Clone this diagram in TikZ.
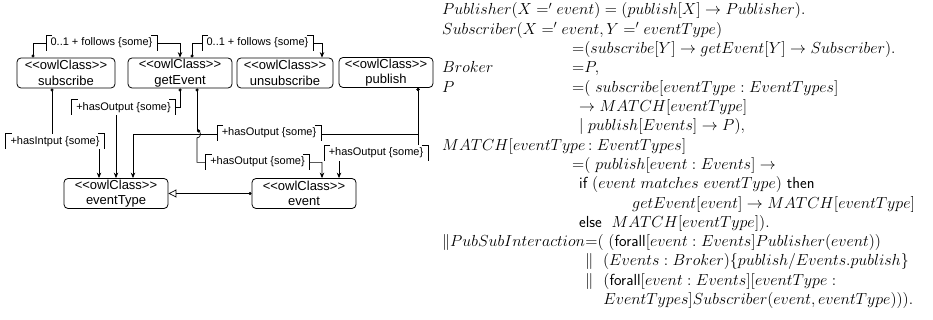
\RequirePackage{fix-cm}
\documentclass[tikz,border=0pt]{standalone}
\usepackage[no-math]{fontspec}
\newfontfamily\arialf{Liberation Sans}
\usetikzlibrary{arrows.meta}
\newcommand\owlc{\textless\kern0pt\textless owlClass\textgreater\kern0pt\textgreater}
\tikzset{
  owl/.style={draw, rounded corners=4pt, line width=0.8pt, align=center,
    font=\arialf\fontsize{13}{15.5}\selectfont, minimum height=30pt, inner sep=0pt},
  role/.style={fill=white, font=\arialf\fontsize{11}{13}\selectfont,
    inner xsep=4.5pt, inner ysep=2.5pt},
  assoc/.style={line width=0.7pt, {Circle[length=3.2pt]}-{Stealth[length=5.5pt,width=4.5pt]}},
  genz/.style={line width=0.7pt, {Circle[length=3.2pt]}-{Triangle[open,length=8pt,width=8pt]}},
  bracket/.style={line width=0.7pt},
  mline/.style={anchor=base west, inner sep=0pt, font=\fontsize{16}{19.3}\selectfont}
}
\begin{document}
\begin{tikzpicture}[x=1pt,y=-1pt]
\useasboundingbox (0,0) rectangle (933,320);
% classes
\node[owl, minimum width=98pt]  (subscribe)   at (66,73)  {\owlc\\subscribe};
\node[owl, minimum width=104pt] (getEvent)    at (180,73) {\owlc\\getEvent};
\node[owl, minimum width=96pt]  (unsubscribe) at (285,73) {\owlc\\unsubscribe};
\node[owl, minimum width=94pt]  (publish)     at (386,72.5) {\owlc\\publish};
\node[owl, minimum width=104pt] (eventType)   at (116,193.5) {\owlc\\eventType};
\node[owl, minimum width=104pt] (event)       at (304,193.5) {\owlc\\event};
% connectors
\draw[assoc] ([xshift=-33pt]subscribe.north) -- ++(0,-14) -| (getEvent.north);
\draw[assoc] ([xshift=12pt]getEvent.north) -- ++(0,-14) -| ([xshift=37pt]unsubscribe.north);
\draw[assoc] (getEvent.south) -- ++(0,19) -| (eventType.north);
\draw[assoc] ([xshift=-14pt]subscribe.south) -- ++(0,53) -| ([xshift=-17pt]eventType.north);
\draw[line width=0.7pt, {Circle[length=3.2pt]}-] ([xshift=17pt]getEvent.south) -- ++(0,42.5) coordinate (hop);
\draw[assoc] (hop) arc[start angle=90, end angle=-90, radius=3.5pt] -- ++(0,24.5) -| ([xshift=18pt]event.north);
\draw[assoc] ([xshift=32pt]publish.south) -- ++(0,46) -| ([xshift=17pt]eventType.north);
\draw[assoc] ([xshift=32pt]publish.south) -- ++(0,65) -| ([xshift=35pt]event.north);
\draw[genz] (event.west) -- (eventType.east);
% role labels
\node[role] (r1) at (101.5,43) {0..1 + follows \{some\}};
\node[role] (r2) at (257.5,43) {0..1 + follows \{some\}};
\node[role] (r3) at (123.5,107.5) {+hasOutput \{some\}};
\node[role] (r4) at (55,141.5) {+hasIntput \{some\}};
\node[role] (r5) at (257.5,162) {+hasOutput \{some\}};
\node[role] (r6) at (269,133) {+hasOutput \{some\}};
\node[role] (r7) at (376,153) {+hasOutput \{some\}};
\foreach \n in {r1,r2,r3,r4,r5,r6,r7}{
  \draw[bracket] ([xshift=6pt]\n.north west) -- (\n.north west) -- (\n.south west);
  \draw[bracket] ([xshift=-6pt]\n.north east) -- (\n.north east) -- (\n.south east);
}
% process algebra text
\node[mline] (m1)  at (442,15)    {$Publisher(X =' event) = (publish[X] \rightarrow Publisher).$};
\node[mline] (m2)  at (442,34.3)  {$Subscriber(X =' event,Y =' eventType)$};
\node[mline] (m3)  at (572,53.6)  {${=}(subscribe[Y] \rightarrow getEvent[Y] \rightarrow Subscriber).$};
\node[mline] (m4a) at (442,72.9)  {$Broker$};
\node[mline] (m4)  at (572,72.9)  {${=}P,$};
\node[mline] (m5a) at (442,92.2)  {$P$};
\node[mline] (m5)  at (572,92.2)  {${=}(\ subscribe[eventType : EventTypes]$};
\node[mline] (m6)  at (579,111.5) {$\rightarrow MATCH[eventType]$};
\node[mline] (m7)  at (579,130.8) {$\mid publish[Events] \rightarrow P),$};
\node[mline] (m8)  at (442,150.1) {$MATCH[eventType\,{:}\; EventTypes]$};
\node[mline] (m9)  at (572,169.4) {${=}(\ publish[event : Events] \rightarrow$};
\node[mline] (m10) at (579,188.7) {$\textsf{if}\ (event\ matches\ eventType)\ \textsf{then}$};
\node[mline] (m11) at (632,208)   {$getEvent[event] \rightarrow MATCH[eventType]$};
\node[mline] (m12) at (579,227.3) {$\textsf{else}\ \ MATCH[eventType]).$};
\node[mline] (m13a) at (442,246.6) {$\|PubSubInteraction$};
\node[mline] (m13) at (m13a.base east) {${=}(\ (\textsf{forall}[event : Events]Publisher(event))$};
\node[mline] (m14) at ([yshift=-19.3pt]m13a.base east) {$\|\ \ (Events : Broker)\{publish/Events.publish\}$};
\node[mline] (m15a) at ([yshift=-38.6pt]m13a.base east) {$\|\ \ $};
\node[mline] (m15) at (m15a.base east) {$(\textsf{forall}[event : Events][eventType :$};
\node[mline] (m16) at ([yshift=-19.3pt]m15.base west) {$EventTypes]Subscriber(event, eventType))).$};
\end{tikzpicture}
\end{document}
